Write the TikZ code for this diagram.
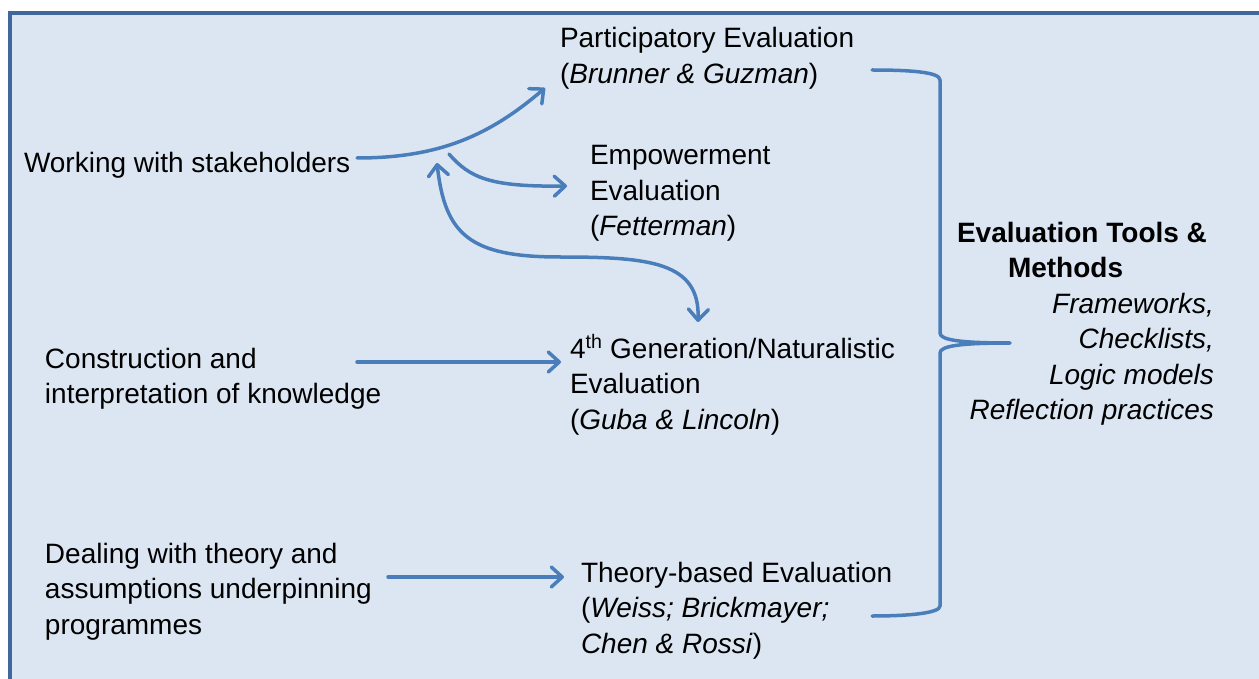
\documentclass[tikz,border=0pt]{standalone}
\usepackage{fontspec}
\setmainfont{Liberation Sans}
\usetikzlibrary{arrows.meta}
\definecolor{boxfill}{HTML}{DCE6F2}
\definecolor{boxline}{HTML}{41689D}
\definecolor{arrowc}{HTML}{4A7EBB}
\begin{document}
\begin{tikzpicture}[x=1pt,y=-1pt,
  txt/.style={font=\fontsize{28}{35.5}\selectfont, inner sep=0pt, outer sep=0pt, align=left},
  txtr/.style={font=\fontsize{28}{35.5}\selectfont\itshape, inner sep=0pt, outer sep=0pt, align=right},
  conn/.style={draw=arrowc, line width=3.5pt, line cap=round, -{Straight Barb[length=11pt,width=20pt,line cap=round,line join=round]}},
  dconn/.style={draw=arrowc, line width=3.5pt, line cap=round, {Straight Barb[length=11pt,width=20pt,line cap=round,line join=round]}-{Straight Barb[length=11pt,width=20pt,line cap=round,line join=round]}},
  bracestyle/.style={draw=arrowc, line width=3.5pt, line cap=round, line join=round}]
\useasboundingbox (0,0) rectangle (1259,679);
\fill[white] (0,0) rectangle (1259,679);
\fill[boxfill] (10,13) rectangle (1265,690);
\draw[boxline, line width=4pt] (10,690) -- (10,13) -- (1265,13);

% left column (base anchor = baseline of last line)
\node[txt, anchor=base west] (ws) at (24,173) {Working with stakeholders};
\node[txt, anchor=base west] (cons) at (45,403.5) {Construction and\\interpretation of knowledge};
\node[txt, anchor=base west] (deal) at (45,634) {Dealing with theory and\\assumptions underpinning\\programmes};

% middle column
\node[txt, anchor=base west] (pe) at (560,83.5) {Participatory Evaluation\\(\textit{Brunner \& Guzman})};
\node[txt, anchor=base west] (emp) at (590,236) {Empowerment\\Evaluation\\(\textit{Fetterman})};
\node[txt, anchor=base west] (gen) at (570,429) {4\textsuperscript{th} Generation/Naturalistic\\Evaluation\\(\textit{Guba \& Lincoln})};
\node[txt, anchor=base west] (tb) at (581,653) {Theory-based Evaluation\\(\textit{Weiss; Brickmayer;}\\\textit{Chen \& Rossi})};

% right column
\node[txt, font=\fontsize{28}{35.5}\selectfont\bfseries, anchor=base west] (etm) at (957,277.5) {Evaluation Tools \&\\\hspace*{51pt}Methods};
\node[txtr, anchor=base east] (list) at (1214,419.5) {Frameworks,\\Checklists,\\Logic models\\Reflection practices};

% connector end points
\coordinate (wsA) at (357,158);
\coordinate (peA) at (545,88);
\coordinate (empS) at (449,154);
\coordinate (empA) at (567,186);
\coordinate (dTop) at (437,163);
\coordinate (dBot) at (698,322);
\coordinate (consA) at (357,362);
\coordinate (genA) at (561,362);
\coordinate (dealA) at (388,577);
\coordinate (tbA) at (564,577);
\coordinate (brTop) at (872,70);
\coordinate (brTip) at (1010,343);
\coordinate (brBot) at (872,616);

% connectors
\draw[conn] (wsA) .. controls (440,158) and (490,135) .. (peA);
\draw[conn] (empS) .. controls (470,178) and (490,187) .. (empA);
\draw[dconn] (dTop) .. controls (445,235) and (470,257) .. (560,257) .. controls (650,257) and (700,262) .. (dBot);
\draw[conn] (consA) -- (genA);
\draw[conn] (dealA) -- (tbA);

% brace
\draw[bracestyle] (brTop) .. controls (910,70) and (940,72) .. (940,80) -- (940,333)
  .. controls (940,340) and (960,343) .. (brTip)
  .. controls (960,343) and (940,346) .. (940,353) -- (940,606)
  .. controls (940,613) and (910,616) .. (brBot);
\end{tikzpicture}
\end{document}
